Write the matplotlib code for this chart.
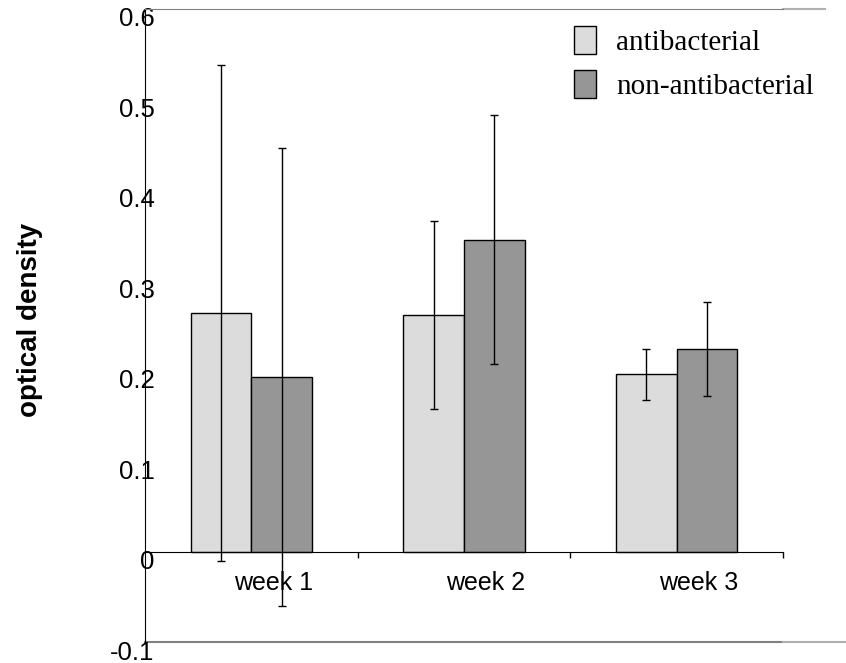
import matplotlib
matplotlib.use("Agg")
import matplotlib.pyplot as plt
import numpy as np
from matplotlib.transforms import ScaledTranslation

# values
weeks = ["week 1", "week 2", "week 3"]
anti_mean = [0.264, 0.262, 0.196]
anti_err = [0.274, 0.104, 0.028]
non_mean = [0.193, 0.345, 0.224]
non_err = [0.253, 0.138, 0.052]
yticks = [-0.1, 0, 0.1, 0.2, 0.3, 0.4, 0.5, 0.6]
ytick_labels = ["-0.1", "0", "0.1", "0.2", "0.3", "0.4", "0.5", "0.6"]

plt.rcParams['font.family'] = ['Liberation Sans', 'DejaVu Sans']

fig = plt.figure(figsize=(8.46, 6.63), dpi=100)
W, H = 846, 663
ax = fig.add_axes([145 / W, 1 - 642 / H, (783 - 145) / W, (642 - 9) / H])

x = np.arange(1, len(weeks) + 1)
width = 0.286
ekw = dict(ecolor='black', elinewidth=1, capsize=3, capthick=1)

ax.bar(x - width / 2, anti_mean, width, yerr=anti_err, color='#dcdcdc',
       edgecolor='black', linewidth=1, label='antibacterial', error_kw=ekw, zorder=2)
ax.bar(x + width / 2, non_mean, width, yerr=non_err, color='#969696',
       edgecolor='black', linewidth=1, label='non-antibacterial', error_kw=ekw, zorder=2)

ax.set_xlim(0.5, len(weeks) + 0.5)
ax.set_ylim(-0.1, 0.6)

# spines: left black, top/bottom gray, x axis drawn at zero
ax.spines['right'].set_visible(False)
ax.spines['top'].set_color('#808080')
ax.spines['left'].set_color('black')
ax.spines['bottom'].set_position(('data', 0))
ax.spines['bottom'].set_color('black')
ax.axhline(-0.1, color='#808080', lw=1.5, clip_on=False, zorder=1)
ax.plot([1, 1.066], [1, 1], transform=ax.transAxes, color='#b0b0b0', lw=1.5, clip_on=False)
ax.plot([1, 1.1], [0, 0], transform=ax.transAxes, color='#b0b0b0', lw=1.5, clip_on=False)

# category boundary ticks on the zero line, labels at category centers
ax.set_xticks(x + 0.5)
ax.set_xticklabels([])
ax.tick_params(axis='x', which='major', direction='out', length=4, width=1)
ax.set_xticks(x, weeks, minor=True)
ax.tick_params(axis='x', which='minor', length=0, pad=14, labelsize=18)
for lab in ax.get_xticklabels(minor=True):
    lab.set_transform(lab.get_transform() + ScaledTranslation(0.22, 0, fig.dpi_scale_trans))

ax.set_yticks(yticks, ytick_labels)
ax.tick_params(axis='y', length=0, pad=-7, labelsize=18.5)
for lab in ax.get_yticklabels():
    lab.set_transform(lab.get_transform() + ScaledTranslation(0, -0.08, fig.dpi_scale_trans))

fig.text(30 / W, 1 - 320 / H, 'optical density', rotation=90, fontsize=20,
         fontweight='bold', ha='center', va='center')

ax.legend(loc='upper right', bbox_to_anchor=(1.09, 1.015), frameon=False,
          prop={'family': 'Liberation Serif', 'size': 21},
          handlelength=0.76, handleheight=1.1, handletextpad=0.7, labelspacing=0.5)

fig.savefig('out.png', dpi=100)
